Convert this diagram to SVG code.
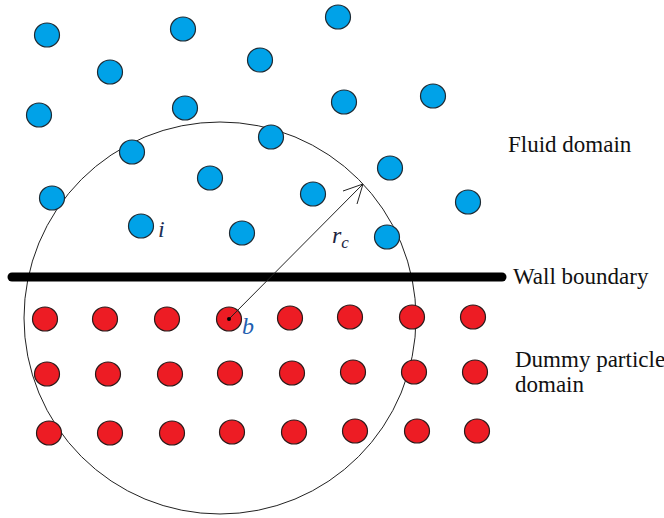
<svg xmlns="http://www.w3.org/2000/svg" width="664" height="518" viewBox="0 0 664 518">
  <style>
    .fluid { fill: #00a2e8; stroke: #1e2a33; stroke-width: 1.2; }
    .dummy { fill: #ed1c24; stroke: #2a1a1a; stroke-width: 1.2; }
    .thin { fill: none; stroke: #222; stroke-width: 1; }
  </style>
  <rect width="664" height="518" fill="#ffffff"/>

  <!-- cut-off radius circle around particle b -->
  <circle class="thin" cx="220" cy="318" r="196"/>

  <!-- fluid particles -->
  <g id="fluid-particles">
    <ellipse class="fluid" cx="47" cy="35" rx="12.5" ry="12"/>
    <ellipse class="fluid" cx="183" cy="29" rx="12.5" ry="12"/>
    <ellipse class="fluid" cx="338" cy="17" rx="12.5" ry="12"/>
    <ellipse class="fluid" cx="110" cy="72" rx="12.5" ry="12"/>
    <ellipse class="fluid" cx="260" cy="60" rx="12.5" ry="12"/>
    <ellipse class="fluid" cx="39" cy="115" rx="12.5" ry="12"/>
    <ellipse class="fluid" cx="185" cy="108" rx="12.5" ry="12"/>
    <ellipse class="fluid" cx="344" cy="102" rx="12.5" ry="12"/>
    <ellipse class="fluid" cx="433" cy="96" rx="12.5" ry="12"/>
    <ellipse class="fluid" cx="132" cy="152" rx="12.5" ry="12"/>
    <ellipse class="fluid" cx="271" cy="137" rx="12.5" ry="12"/>
    <ellipse class="fluid" cx="210" cy="178" rx="12.5" ry="12"/>
    <ellipse class="fluid" cx="390" cy="168" rx="12.5" ry="12"/>
    <ellipse class="fluid" cx="52" cy="198" rx="12.5" ry="12"/>
    <ellipse class="fluid" cx="313" cy="194" rx="12.5" ry="12"/>
    <ellipse class="fluid" cx="468" cy="202" rx="12.5" ry="12"/>
    <ellipse class="fluid" cx="141" cy="226" rx="12.5" ry="12"/>
    <ellipse class="fluid" cx="242" cy="233" rx="12.5" ry="12"/>
    <ellipse class="fluid" cx="387" cy="237" rx="12.5" ry="12"/>
  </g>

  <!-- wall boundary -->
  <line id="wall" x1="12" y1="277" x2="502" y2="277" stroke="#000" stroke-width="9" stroke-linecap="round"/>

  <!-- dummy (boundary) particles -->
  <g id="dummy-particles">
    <ellipse class="dummy" cx="45" cy="319" rx="12.5" ry="12"/>
    <ellipse class="dummy" cx="105" cy="319" rx="12.5" ry="12"/>
    <ellipse class="dummy" cx="167" cy="319" rx="12.5" ry="12"/>
    <ellipse class="dummy" cx="229" cy="319" rx="12.5" ry="12"/>
    <ellipse class="dummy" cx="290" cy="318" rx="12.5" ry="12"/>
    <ellipse class="dummy" cx="350" cy="317" rx="12.5" ry="12"/>
    <ellipse class="dummy" cx="412" cy="317" rx="12.5" ry="12"/>
    <ellipse class="dummy" cx="473" cy="317" rx="12.5" ry="12"/>

    <ellipse class="dummy" cx="47" cy="374" rx="12.5" ry="12"/>
    <ellipse class="dummy" cx="108" cy="374" rx="12.5" ry="12"/>
    <ellipse class="dummy" cx="170" cy="374" rx="12.5" ry="12"/>
    <ellipse class="dummy" cx="230" cy="373" rx="12.5" ry="12"/>
    <ellipse class="dummy" cx="292" cy="373" rx="12.5" ry="12"/>
    <ellipse class="dummy" cx="353" cy="372" rx="12.5" ry="12"/>
    <ellipse class="dummy" cx="414" cy="372" rx="12.5" ry="12"/>
    <ellipse class="dummy" cx="475" cy="372" rx="12.5" ry="12"/>

    <ellipse class="dummy" cx="49" cy="433" rx="12.5" ry="12"/>
    <ellipse class="dummy" cx="110" cy="433" rx="12.5" ry="12"/>
    <ellipse class="dummy" cx="172" cy="433" rx="12.5" ry="12"/>
    <ellipse class="dummy" cx="232" cy="432" rx="12.5" ry="12"/>
    <ellipse class="dummy" cx="294" cy="432" rx="12.5" ry="12"/>
    <ellipse class="dummy" cx="355" cy="431" rx="12.5" ry="12"/>
    <ellipse class="dummy" cx="417" cy="431" rx="12.5" ry="12"/>
    <ellipse class="dummy" cx="477" cy="431" rx="12.5" ry="12"/>
  </g>

  <!-- radius arrow from b to the circle -->
  <g id="connectors">
    <line class="thin" x1="229" y1="319" x2="363" y2="184"/>
    <polyline class="thin" points="343,191 363,184 357,204"/>
  </g>
  <circle cx="229" cy="319" r="2" fill="#000"/>

  <!-- symbols -->
  <g id="symbols">
    <text x="158" y="237" fill="#1d2f55" font-family="Liberation Serif" font-style="italic" font-size="24">i</text>
    <text x="242" y="334" fill="#1f5fb0" font-family="Liberation Serif" font-style="italic" font-size="24">b</text>
    <text x="332" y="243" fill="#1d2540" font-family="Liberation Serif" font-style="italic" font-size="24">r<tspan font-size="17" dy="5">c</tspan></text>
  </g>

  <!-- legend labels -->
  <g id="labels">
    <text x="508" y="152" font-family="'Liberation Serif', serif" font-size="23" fill="#111">Fluid domain</text>
    <text x="513" y="284" font-family="'Liberation Serif', serif" font-size="23" fill="#111">Wall boundary</text>
    <text x="515" y="367" font-family="'Liberation Serif', serif" font-size="23" fill="#111">Dummy particle</text>
    <text x="515" y="392" font-family="'Liberation Serif', serif" font-size="23" fill="#111">domain</text>
  </g>
</svg>
